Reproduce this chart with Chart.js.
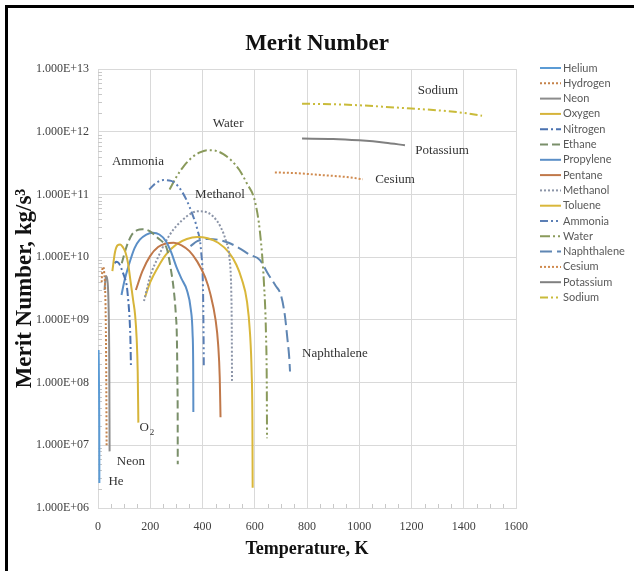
<!DOCTYPE html>
<html>
<head>
<meta charset="utf-8">
<title>Merit Number</title>
<script src="https://cdn.jsdelivr.net/npm/chart.js@4.4.1/dist/chart.umd.min.js"></script>
<style>
    html, body { margin: 0; padding: 0; background: #fff; }
    #wrap { position: relative; width: 634px; height: 571px; }
    #frame { position: absolute; left: 5px; top: 5px; right: 0; bottom: 0;
             border-left: 3px solid #000; border-top: 3px solid #000; pointer-events: none; }
</style>
</head>
<body>
<div id="wrap">
    <canvas id="meritChart" width="634" height="571"></canvas>
    <div id="frame"></div>
</div>
<script>
// fluids in legend order
const fluids = ['Helium', 'Hydrogen', 'Neon', 'Oxygen', 'Nitrogen', 'Ethane', 'Propylene', 'Pentane',
    'Methanol', 'Toluene', 'Ammonia', 'Water', 'Naphthalene', 'Cesium', 'Potassium', 'Sodium'];

// temperature (K) and merit number (kg/s^3)
const heliumT = [2.2, 3, 4, 4.8, 5.2];
const heliumM = [3.3e8, 2.2e8, 8e7, 2e7, 2.5e6];
const hydrogenT = [14, 17, 20, 24, 28, 31, 33];
const hydrogenM = [4e9, 6.5e9, 7e9, 5.5e9, 2.5e9, 3e8, 1e7];
const neonT = [25, 30, 35, 40, 43, 44.4];
const neonM = [3e9, 5e9, 4.5e9, 2e9, 2.5e8, 8e6];
const oxygenT = [55, 65, 75, 85, 95, 105, 115, 125, 135, 142, 148, 152, 154.5];
const oxygenM = [6e9, 1.2e10, 1.55e10, 1.6e10, 1.45e10, 1.2e10, 8e9, 4e9, 2e9, 1.2e9, 5e8, 1.5e8, 2.3e7];
const nitrogenT = [63.2, 70, 80, 90, 100, 110, 116, 120, 124, 126];
const nitrogenM = [8e9, 8.5e9, 8e9, 6.5e9, 5e9, 3.5e9, 2e9, 1.2e9, 5e8, 1.9e8];
const ethaneT = [91, 110, 130, 150, 170, 190, 210, 230, 250, 265, 280, 290, 298, 302, 304, 305, 305.3];
const ethaneM = [8e9, 1.5e10, 2.3e10, 2.7e10, 2.8e10, 2.7e10, 2.4e10, 2e10, 1.7e10, 1.3e10, 6e9, 3e9,
    1.2e9, 5e8, 1e8, 3e7, 5e6];
const propyleneT = [90, 100, 120, 140, 160, 185, 210, 235, 260, 280, 300, 320, 340, 355, 362, 364.5, 365];
const propyleneM = [2.5e9, 4e9, 8e9, 1.4e10, 1.9e10, 2.3e10, 2.45e10, 2.3e10, 1.8e10, 1.2e10, 7e9, 4.5e9,
    3e9, 1.5e9, 6e8, 1.5e8, 3.4e7];
const pentaneT = [145, 170, 200, 230, 260, 290, 320, 350, 380, 410, 430, 450, 460, 466, 469];
const pentaneM = [3e9, 6e9, 1.05e10, 1.45e10, 1.65e10, 1.7e10, 1.55e10, 1.25e10, 8.5e9, 4.8e9, 2.6e9,
    1e9, 4e8, 1.2e8, 2.8e7];
const methanolT = [176, 200, 230, 260, 290, 320, 350, 380, 410, 440, 470, 490, 503, 510, 512, 513];
const methanolM = [2e9, 5e9, 1e10, 1.8e10, 2.8e10, 3.8e10, 4.8e10, 5.4e10, 5.3e10, 4.5e10, 3e10, 1.8e10,
    1e10, 3e9, 8e8, 1e8];
const tolueneT = [180, 200, 230, 260, 300, 340, 380, 420, 460, 500, 530, 550, 570, 582, 588, 591, 592];
const tolueneM = [2.3e9, 4e9, 7e9, 1.1e10, 1.6e10, 1.95e10, 2.1e10, 2e10, 1.7e10, 1.2e10, 7.5e9, 4.5e9,
    2e9, 6e8, 1.5e8, 2.5e7, 2.1e6];
const ammoniaT = [196, 220, 250, 280, 310, 340, 360, 380, 395, 402, 404, 405];
const ammoniaM = [1.2e11, 1.5e11, 1.7e11, 1.65e11, 1.3e11, 8e10, 5e10, 2.8e10, 1.2e10, 3e9, 6e8, 1.8e8];
const waterT = [274, 300, 330, 360, 390, 420, 450, 480, 510, 540, 570, 600, 620, 635, 643, 646, 647];
const waterM = [1.2e11, 1.9e11, 2.9e11, 3.9e11, 4.7e11, 5.1e11, 5e11, 4.4e11, 3.5e11, 2.5e11, 1.5e11,
    8e10, 2.5e10, 4e9, 6e8, 1e8, 1.3e7];
const naphthaleneT = [354, 380, 420, 460, 500, 540, 580, 620, 650, 680, 700, 715, 725, 732, 735];
const naphthaleneM = [1.5e10, 1.8e10, 1.95e10, 1.9e10, 1.7e10, 1.4e10, 1.1e10, 9e9, 5.5e9, 3.5e9, 2.5e9,
    1.2e9, 5e8, 2.5e8, 1.5e8];
const cesiumT = [677, 750, 850, 950, 1014];
const cesiumM = [2.25e11, 2.2e11, 2.05e11, 1.9e11, 1.75e11];
const potassiumT = [781, 900, 1000, 1100, 1175];
const potassiumM = [7.8e11, 7.7e11, 7.3e11, 6.7e11, 6.1e11];
const sodiumT = [781, 900, 1000, 1100, 1200, 1300, 1400, 1470];
const sodiumM = [2.8e12, 2.75e12, 2.65e12, 2.5e12, 2.35e12, 2.2e12, 2e12, 1.8e12];

const temps = [heliumT, hydrogenT, neonT, oxygenT, nitrogenT, ethaneT, propyleneT, pentaneT,
    methanolT, tolueneT, ammoniaT, waterT, naphthaleneT, cesiumT, potassiumT, sodiumT];
const merits = [heliumM, hydrogenM, neonM, oxygenM, nitrogenM, ethaneM, propyleneM, pentaneM,
    methanolM, tolueneM, ammoniaM, waterM, naphthaleneM, cesiumM, potassiumM, sodiumM];

// axis ticks
const tempTicks = [0, 200, 400, 600, 800, 1000, 1200, 1400, 1600];
const meritTicks = [1e6, 1e7, 1e8, 1e9, 1e10, 1e11, 1e12, 1e13];

// labels written inside the plot
const noteText = ['Water', 'Ammonia', 'Methanol', 'Sodium', 'Potassium', 'Cesium', 'Naphthalene', 'Neon', 'He'];
const noteT = [498, 153, 467, 1301, 1317, 1137, 907, 126, 69];
const noteM = [1.37e12, 3.4e11, 9.8e10, 4.5e12, 5.1e11, 1.7e11, 2.9e8, 5.6e6, 2.6e6];

// line looks
const colors = ['#5b9bd5', '#c5824a', '#8c8c8c', '#d6b43a', '#4a72b0', '#7a8f6a', '#5b8fc7', '#c0784a',
    '#8c95a8', '#d9b73a', '#5b7fb5', '#8a9a5b', '#5f86b3', '#d08a4e', '#808080', '#c9bb3a'];
const dashes = [[], [2, 2], [], [], [8, 3, 2, 3], [8, 4], [], [], [2, 2], [], [8, 3, 2, 3, 2, 3],
    [10, 3, 2, 3, 2, 3], [12, 5], [2, 2], [], [8, 3, 2, 3, 2, 3]];

const serif = "'Liberation Serif', 'Times New Roman', serif";

function sci(v) {
    const e = Math.round(Math.log10(v));
    return '1.000E' + (e < 0 ? '-' : '+') + String(Math.abs(e)).padStart(2, '0');
}

const datasets = fluids.map(function (name, i) {
    return {
        label: name,
        data: temps[i].map(function (t, j) { return { x: t, y: merits[i][j] }; }),
        borderColor: colors[i],
        backgroundColor: colors[i],
        borderDash: dashes[i],
        borderWidth: 2,
        pointRadius: 0,
        fill: false,
        cubicInterpolationMode: 'monotone'
    };
});

const extras = {
    id: 'extras',
    beforeDatasetsDraw(chart) {
        // small minor tick marks inside the plot, like the spreadsheet original
        const { ctx, chartArea: a, scales: { x, y } } = chart;
        ctx.save();
        ctx.strokeStyle = '#c8c8c8';
        ctx.lineWidth = 1;
        ctx.beginPath();
        for (let e = 6; e < 13; e++) {
            for (let k = 2; k < 10; k++) {
                const py = Math.round(y.getPixelForValue(k * Math.pow(10, e))) + 0.5;
                ctx.moveTo(a.left, py); ctx.lineTo(a.left + 4, py);
            }
        }
        for (let t = 50; t < 1600; t += 50) {
            if (t % 200 === 0) continue;
            const px = Math.round(x.getPixelForValue(t)) + 0.5;
            ctx.moveTo(px, a.bottom); ctx.lineTo(px, a.bottom - 4);
        }
        ctx.stroke();
        ctx.restore();
    },
    afterDraw(chart) {
        const { ctx, scales: { x, y } } = chart;
        ctx.save();
        // notes
        ctx.fillStyle = '#333';
        ctx.font = '13px ' + serif;
        ctx.textAlign = 'center';
        ctx.textBaseline = 'middle';
        noteText.forEach(function (txt, i) {
            ctx.fillText(txt, x.getPixelForValue(noteT[i]), y.getPixelForValue(noteM[i]));
        });
        // O2 with subscript
        const ox = x.getPixelForValue(184), oy = y.getPixelForValue(1.9e7);
        ctx.fillText('O', ox - 2, oy);
        ctx.font = '9px ' + serif;
        ctx.fillText('2', ox + 6, oy + 5);

        // legend
        const lx = 540, ly = 68, step = 15.3;
        ctx.font = "11px Lato, 'Open Sans', sans-serif";
        ctx.textAlign = 'left';
        chart.data.datasets.forEach(function (ds, i) {
            const yy = ly + i * step;
            ctx.strokeStyle = ds.borderColor;
            ctx.lineWidth = 2;
            ctx.setLineDash(ds.borderDash);
            ctx.beginPath();
            ctx.moveTo(lx, yy); ctx.lineTo(lx + 21, yy);
            ctx.stroke();
            ctx.setLineDash([]);
            ctx.fillStyle = '#595959';
            ctx.fillText(ds.label, lx + 23, yy);
        });
        ctx.restore();
    }
};

const ctx = document.getElementById('meritChart');

new Chart(ctx, {
    type: 'line',
    data: { datasets: datasets },
    options: {
        responsive: false,
        animation: false,
        devicePixelRatio: 1,
        plugins: {
            legend: { display: false },
            tooltip: { enabled: false },
            title: {
                display: true,
                text: 'Merit Number',
                color: '#111',
                font: { family: serif, size: 23, weight: 'bold' },
                padding: { top: 30, bottom: 11.5 }
            }
        },
        scales: {
            x: {
                type: 'linear',
                min: 0,
                max: 1600,
                afterBuildTicks: function (scale) {
                    scale.ticks = tempTicks.map(function (v) { return { value: v }; });
                },
                afterFit: function (scale) { scale.height = 63; },
                ticks: {
                    color: '#404040',
                    font: { family: serif, size: 12 },
                    padding: 12,
                    callback: function (v) { return String(v); }
                },
                grid: { color: '#d9d9d9', drawTicks: false },
                border: { color: '#d9d9d9' },
                title: {
                    display: true,
                    text: 'Temperature, K',
                    color: '#111',
                    font: { family: serif, size: 18, weight: 'bold' },
                    padding: { top: 0, bottom: 11 }
                }
            },
            y: {
                type: 'logarithmic',
                min: 1e6,
                max: 1e13,
                afterBuildTicks: function (scale) {
                    scale.ticks = meritTicks.map(function (v) { return { value: v }; });
                },
                afterFit: function (scale) { scale.width = 98; },
                ticks: {
                    color: '#404040',
                    font: { family: serif, size: 12 },
                    padding: 9,
                    callback: function (v) { return sci(v); }
                },
                grid: { color: '#d9d9d9', drawTicks: false },
                border: { color: '#d9d9d9' },
                title: {
                    display: true,
                    text: 'Merit Number, kg/s³',
                    color: '#111',
                    font: { family: serif, size: 23, weight: 'bold' },
                    padding: { top: 11, bottom: 0 }
                }
            },
            // empty right-hand axis that only keeps room for the legend
            side: {
                type: 'linear',
                position: 'right',
                display: true,
                afterFit: function (scale) { scale.width = 118; },
                ticks: { display: false },
                grid: { display: false },
                border: { display: false }
            }
        }
    },
    plugins: [extras]
});
</script>
</body>
</html>
